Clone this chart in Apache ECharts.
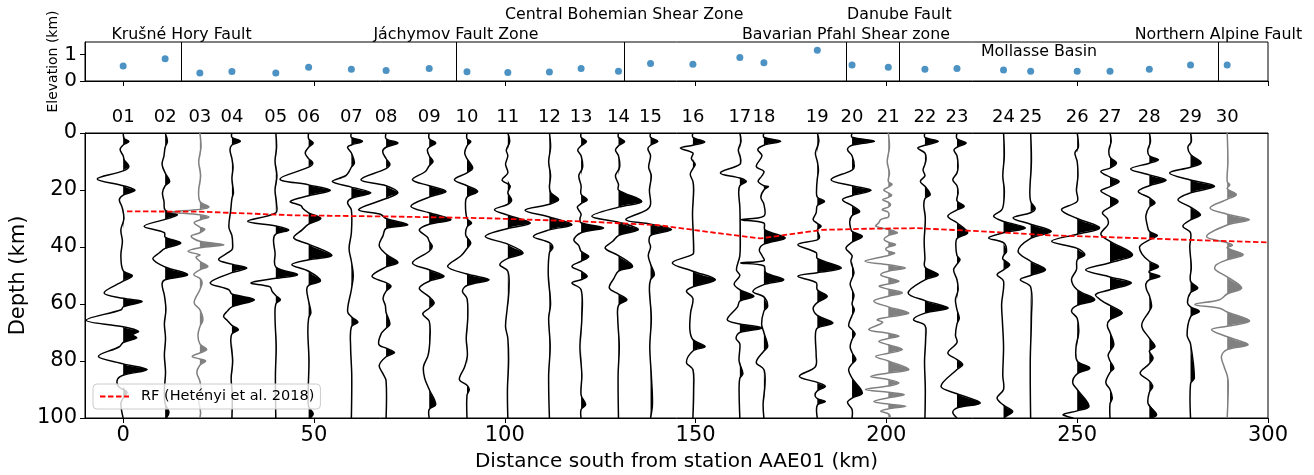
<!DOCTYPE html>
<html>
<head>
<meta charset="utf-8">
<script src="https://cdn.jsdelivr.net/npm/echarts@6/dist/echarts.min.js"></script>
<style>
  html, body { margin: 0; padding: 0; background: #fff; }
  #chart { width: 1314px; height: 475px; }
</style>
</head>
<body>
<div id="chart"></div>
<script>
// stations
var STATION_NAMES = ['01','02','03','04','05','06','07','08','09','10','11','12','13','14','15',
                     '16','17','18','19','20','21','22','23','24','25','26','27','28','29','30'];
var STATION_X = [0, 11.0, 20.1, 28.5, 40.0, 48.6, 59.8, 68.9, 80.2, 90.1, 100.8, 111.7, 120.0, 129.8, 138.2,
                 149.3, 161.6, 167.9, 181.9, 191.0, 200.5, 210.1, 218.5, 230.7, 237.8, 250.0, 258.6, 268.9, 279.7, 289.3];
var ELEVATION = [0.57, 0.84, 0.30, 0.36, 0.30, 0.52, 0.45, 0.40, 0.47, 0.35, 0.32, 0.34, 0.47, 0.37, 0.66,
                 0.64, 0.89, 0.69, 1.17, 0.61, 0.52, 0.45, 0.47, 0.42, 0.37, 0.37, 0.37, 0.45, 0.61, 0.61];
var GRAY_STATIONS = ['03', '21', '30'];

// faults
var FAULT_NAMES = ['Krušné Hory Fault', 'Jáchymov Fault Zone', 'Central Bohemian Shear Zone',
                   'Bavarian Pfahl Shear zone', 'Danube Fault', 'Northern Alpine Fault'];
var FAULT_X = [15.3, 87.2, 131.3, 189.4, 203.4, 287.0];
var FAULT_LEVEL = [0, 0, 1, 0, 1, 0];
var BASIN_NAME = 'Mollasse Basin';
var BASIN_X = 240;
var BASIN_ELEV = 1.1;

// Moho from RF (Hetényi et al. 2018)
var RF_NAME = 'RF (Hetényi et al. 2018)';
var RF_X = [1, 20, 30, 45, 70, 95, 120, 140, 155, 167, 175, 183, 195, 208, 225, 243, 266, 300];
var RF_DEPTH = [27.5, 27.6, 28.1, 28.9, 29.3, 29.9, 31.0, 32.3, 35.0, 37.0, 35.5, 34.0, 33.6, 33.4, 34.5, 35.9, 36.9, 38.4];

var X_TICKS = [0, 50, 100, 150, 200, 250, 300];

// receiver function traces: [depth km, offset km]
var TR01 = [[0,0],[2,0.3],[3,1.5],[4.2,0],[5.8,-0.8],[8,0],[9.5,0.3],[11.7,1.5],[13.3,0],[16.1,-6.8],[18.5,0],[20.1,3.1],[21.8,0],[23.4,-1.0],[26,-0.3],[30,0.2],[34,-0.6],[38,-0.2],[43,-0.6],[48.3,0],[50.1,2.4],[52,0],[56.1,-5.0],[58,0],[59.1,5.0],[61,0],[62,-0.5],[65.7,-9.7],[68,0],[69.6,4.0],[70.8,2.5],[71.9,3.5],[73.5,0],[75,-1],[78.4,-6.5],[81,0],[83,6.3],[85,0],[86.5,-1.5],[89,-1.2],[91,1.0],[93,0],[95,-0.6],[100,0]];
var TR02 = [[0,0],[3,0.6],[5,0],[8,-0.3],[11,-0.8],[14,0],[17,1.2],[18.5,0],[21,-0.7],[24,-0.3],[27,0],[28.7,3.2],[30.3,0],[32.7,-5.5],[35,-0.2],[36.5,0],[38.6,4.1],[40.5,0],[42,-1.5],[44.2,-3.2],[47,0],[49.7,5.9],[51.5,0],[53,-0.8],[57,-0.2],[62,0.2],[67,-0.2],[72,0.1],[78,-0.2],[84,0.1],[90,-0.2],[95,0],[98,1.0],[100,0.3]];
var TR03 = [[0,0],[5,0.3],[10,-0.3],[15,0.2],[20,-0.3],[24,0],[26,2.4],[26.8,0],[27.7,-7.7],[28.7,0],[29.5,2.4],[30.5,0],[31.5,-1.5],[33,0],[33.8,1.3],[35,0],[36.2,-2.3],[38,0],[39.2,6.3],[40.3,0],[41.5,-3.1],[42.8,0],[43.5,-1],[45,0],[46.8,2.1],[48,0],[49.7,-1.6],[51,0],[52.5,0.6],[55,0],[59.6,-1.5],[62,0],[65.5,0.8],[68,0],[71,-0.5],[74,0],[76,1.8],[77.2,0],[78.4,-2.0],[79.3,0],[80,1.5],[81.5,0],[84,-0.8],[87,0],[90,0.3],[94,-0.3],[98,0.2],[100,0]];
var TR04 = [[0,0],[1.5,0],[2.9,2.2],[4.2,0],[6,-0.5],[9,0],[12,0.3],[16,0],[21,0.4],[23,0],[27,-0.3],[33,-0.8],[36,0],[39,0.2],[41,0],[44.4,-3.5],[46,0],[47.4,3.9],[49,0],[52.6,-5.7],[55,-0.8],[56.5,0],[58.5,5.9],[61,0],[62.5,-1.2],[64.3,-2.2],[65.8,-1.2],[67.5,0],[69,1.7],[70.5,0],[73,-0.3],[80,0.2],[86,-0.2],[92,0.1],[100,0]];
var TR05 = [[0,0],[5,0.2],[10,-0.2],[15,0.3],[20,-0.2],[25,0.2],[28,0],[31,-7.4],[32.6,0],[34,3.4],[35.5,0],[37.5,-0.6],[42,-0.2],[47,0],[49.7,5.7],[51,0],[52.6,-6.5],[54,-1.5],[55.5,-1],[57,0],[58.5,1.2],[60,0],[65,-0.2],[75,0.1],[85,-0.1],[100,0]];
var TR06 = [[0,0],[2,0],[3.5,1.2],[5,0],[7,-0.9],[9,0],[10.5,1.1],[12,0],[16.1,-7.5],[18.2,0],[20.1,5.7],[22,0],[24,-4.8],[25.5,-2],[26.5,-1.5],[28,0],[30,3.2],[32,0],[34,-1.7],[36.8,-3.9],[39,0],[43,6.1],[44.5,0],[46.2,-4.4],[48.5,0],[51.8,3.1],[53.5,0],[55,-0.5],[59,0],[63,0.6],[65,0],[70,-0.2],[80,0.1],[90,-0.1],[96,0],[98.5,1.2],[100,0.4]];
var TR07 = [[0,0],[1.5,0],[2.9,2.9],[4.2,0],[5,-1.0],[7,0],[10.5,0.8],[12,0],[13.5,-0.6],[15,-1.5],[17,-5.0],[19,0],[21,5.1],[23,0],[24.5,-1.0],[27,0],[35,0],[40.5,-0.6],[45,0],[50,0.5],[55,0],[62.5,-1.0],[64.5,0],[66.4,1.7],[68,0],[75,-0.2],[85,0.1],[100,0]];
var TR08 = [[0,0],[2,0],[3.5,3.1],[5,0],[6.5,-0.9],[9,0],[11,1.0],[12.5,0],[16.4,-6.6],[18.5,0],[21,3.1],[23,0],[26.9,-7.2],[28.5,-1.5],[30,0],[32.2,5.7],[33.5,0],[36,-0.8],[39.5,-1.8],[42.5,0],[45.4,3.1],[47,0],[50.3,-3.7],[52.5,0],[53.8,1.3],[55.5,0],[58,-0.8],[60.5,-0.2],[63,0],[67,1.0],[68.5,0],[70.5,-1.3],[74.2,-1.9],[75.5,0],[77,2.2],[78.5,0],[81.5,-1.8],[84.5,-0.8],[87,0],[100,0]];
var TR09 = [[0,0],[2,0],[3.5,1.7],[5,0],[6,-0.5],[8,0],[10,1.0],[11.5,0],[13.5,-1],[16.4,-4.4],[18.5,0],[20.5,4.4],[22.5,0],[25.7,-4.8],[28,0],[30.4,5.7],[32,0],[34,-2.6],[36.5,-0.5],[38,0],[39.8,0.8],[41.5,0],[45.6,-4.4],[48,0],[50.3,3.9],[52,0],[54.5,-2.6],[57.5,0],[59.6,1.3],[61.5,0],[63.5,-1.7],[66,0],[72,0.2],[78,-0.3],[82,-1.5],[86,-1.2],[90,0],[95.3,1.7],[97,0],[100,0]];
var TR10 = [[0,0],[2,0],[3,1.0],[4.5,0],[7,-0.6],[9,0],[12.3,1.5],[14,0],[16.4,-3.3],[18.5,0],[20.5,2.8],[22.5,0],[25,-0.4],[30,0],[31.6,1.2],[33,0],[36,-0.3],[38.6,1.0],[40.5,0],[43,-1.5],[46.8,-5.1],[49.5,0],[51.5,5.8],[53.5,0],[55.5,-1.2],[58,0],[65,0.2],[72,-0.2],[78,0.1],[82,-0.6],[86.5,-2.0],[88.5,0],[90,0.6],[92,0],[100,0]];
var TR11 = [[0,0],[3,0.5],[6,-0.4],[8,0],[11,-0.6],[14,0],[16.5,-1.5],[18.5,0.6],[21,0],[23.5,1.0],[25,0],[26.9,-3.5],[28.8,0],[31.6,5.9],[33.5,0],[36.3,-5.9],[39,0],[42.1,4.0],[44,0],[46.2,-2.1],[48.5,0],[55,0.3],[62,-0.2],[68,-0.6],[72,0],[80,0.2],[90,-0.1],[100,0]];
var TR12 = [[0,0],[5,0.3],[10,-0.2],[15,0.3],[19,0],[21,0.4],[23.4,2.4],[25,0],[27.1,-6.4],[29.5,0],[32.2,5.9],[34,0],[36.3,-4.2],[38.5,0],[40.3,0.9],[42,0],[50,-0.3],[60,0.3],[65,-0.2],[75,0.2],[85,-0.2],[100,0]];
var TR13 = [[0,0],[1.5,0],[3,1.4],[4.5,0],[6,-0.9],[8,0],[12,0.4],[15,-0.6],[18.5,0],[21.5,0],[23.4,1.6],[24.8,0],[26,-1.0],[28.5,0],[30,-0.3],[31.5,0],[33.3,5.9],[35,0],[37.5,-1.9],[39.5,-0.6],[41.5,0],[43.3,2.0],[45,0],[46.8,-2.4],[48.5,0],[50.3,1.6],[51.5,0],[52.6,-2.4],[55,0],[65,0.2],[75,-0.3],[85,0.2],[92,0],[95.3,1.2],[97,0],[100,0]];
var TR14 = [[0,0],[1.5,0],[3,1.6],[4.5,0],[6,-0.8],[8,0],[12,0.3],[15,-0.8],[18,0],[20,0],[24,6.1],[26,0],[29.2,-7.0],[31.3,0],[33.9,5.2],[36,0],[38,-1.5],[40.4,-3.5],[43,0],[46.8,3.7],[48.5,0],[51,-1.2],[54.4,-2.4],[56.5,0],[58.5,2.2],[60.5,0],[65,-0.2],[75,0.2],[85,-0.1],[100,0]];
var TR15 = [[0,0],[1.5,0],[2.9,1.9],[4.3,0],[5.5,-0.7],[8,0],[12,-0.5],[15,0.2],[20,-0.3],[25,0],[27,-1],[30.4,-6.5],[32,0],[33.9,5.5],[36,0],[38,-0.4],[40,0],[43,-0.6],[46,0],[49.7,1.0],[51.5,0],[55,-0.3],[65,0.2],[75,-0.2],[85,0.2],[95,0.5],[100,0]];
var TR16 = [[0,0],[1.5,0],[3.2,3.1],[4.3,0],[5.3,-3.3],[7,0],[9,-0.4],[11,0.6],[12.5,0],[14.5,-0.7],[17,0],[20,0.2],[28,-0.1],[36,0.1],[41,0.2],[42.5,0],[45.6,-5.4],[48.5,0],[51.5,5.9],[54,0],[55.5,-1.7],[58,0],[63,-0.6],[69,-0.8],[72.5,0],[74.9,3.2],[76.5,0],[80.5,-1.7],[83,0],[90,0.2],[100,0]];
var TR17 = [[0,0],[3,0.3],[6,-0.4],[9,0.2],[11,0],[14,-5.1],[15.8,0],[17,1.7],[18.5,0],[21,-0.3],[26,0],[35,0.1],[43,0],[48,-0.9],[50,0],[53,-1.5],[55,0],[57.3,3.7],[59,0],[61,-0.6],[65.5,-3.3],[67,0],[68.4,5.9],[70,0],[72,-1.0],[74,0],[80,-0.2],[84.5,0.8],[86,0],[90,-0.2],[100,0]];
var TR18 = [[0,0],[1.5,0],[2.9,4.4],[4.3,0],[5.8,-1.6],[8,-0.5],[11.7,-2.0],[13.5,0],[15,-0.5],[17,-1.5],[18.5,0],[18.8,1.2],[20,0],[22.5,-0.8],[25,0],[29.2,0],[30.4,-6.0],[31.6,0],[34,0.3],[36.8,5.6],[39,0],[41,-1.2],[43,-0.5],[44.8,0],[45.6,-6.1],[46.6,0],[49,0.5],[51.5,5.2],[53.2,0],[55.6,-2.9],[57.5,0],[60.8,1.0],[62.5,0],[67,-0.6],[70,0],[74.9,1.0],[76.5,0],[80.5,-2.0],[83,0],[88,0.3],[95,-0.2],[100,0]];
var TR19 = [[0,0],[3,0.4],[7,-0.5],[10,0],[13,0.3],[16,0],[20,-0.2],[22.5,0],[24,1.9],[25.5,0],[28,-0.3],[30.4,-1.1],[31.7,0],[32.7,1.0],[34,0],[36.5,0.6],[37.5,0],[39.2,-5.1],[42,-0.3],[44,0],[47.4,6.3],[49,0],[50.3,-5.1],[52.5,-0.3],[55,0],[57.3,2.6],[59.5,0],[61.5,-1.1],[64,0],[66.7,4.1],[68.5,0],[71,-0.5],[78,-0.3],[82,-0.5],[85.4,-4.7],[87.5,0],[88.9,2.1],[90.5,0],[92,-0.6],[93.2,0],[94.2,2.1],[95.5,0],[100,0]];
var TR20 = [[0,0],[1.5,0],[2.9,5.9],[4.3,0],[5.8,-1.2],[8,0],[11.7,0.6],[13,0],[16.4,-5.5],[18.5,0],[20.1,5.0],[22,0],[23.4,-2.5],[25.5,0],[27.5,2.0],[29,0],[31,-0.6],[33.3,-0.4],[34.5,0],[36.3,2.7],[38.3,0],[40.4,-1.6],[43,0],[45,-0.3],[49,0.5],[51,0],[53,-0.5],[55,0],[57,0.5],[60,0],[62,0.6],[64,0],[67.5,-0.9],[69,0],[70.5,0.8],[72.5,0],[75,-0.5],[77,0],[79.5,1.0],[81,0],[83,-0.9],[86,0],[91.2,2.7],[93,0],[94.5,-1.2],[97,0],[100,0]];
var TR21 = [[0,0],[5,0.3],[10,-0.3],[14,0.3],[17,0],[18,1.0],[19,0],[20,-1.2],[21,0],[21.8,0.9],[22.6,0],[23.4,-1.5],[24.3,0],[25.2,0.6],[26,0],[26.9,-1.6],[27.8,0],[28.7,0.2],[29.5,0],[30.4,-2.0],[31.5,-2.5],[32.7,-3.3],[33.8,0],[35,2.4],[36,0],[37.4,-1.1],[38.3,0],[39.2,1.9],[40,0],[40.7,-0.7],[41.5,0],[42.1,1.7],[43,0],[45,-6.1],[46.2,0],[47.4,4.5],[48.5,0],[49.7,-2.0],[50.8,0],[52,2.8],[53,0],[53.8,-2.4],[54.8,0],[56.1,3.7],[57.3,0],[59,-3.8],[61,0],[63.2,5.4],[64.6,0],[65.5,-2.9],[66.5,-1.5],[69,-5.1],[70.3,0],[71.3,2.8],[72.1,0],[73.1,-2.5],[74.3,0],[76,3.7],[77.3,0],[78.4,-3.3],[80,0],[83,5.4],[84.2,0],[85.4,-4.6],[86.5,0],[87.7,2.8],[88.8,0],[90,-6],[91,0],[91.8,4.2],[92.9,0],[94.2,-3.8],[95.1,0],[95.9,4.6],[96.8,0],[97.6,-2],[98.5,0],[99.5,0.5],[100,0]];
var TR22 = [[0,0],[1.5,0],[2.9,3.5],[4.3,0],[5.3,-1.9],[7,0],[9,0.3],[11,0],[13,-0.5],[15,0],[17,-1.2],[18.7,0],[21.6,1.4],[23,0],[25.5,-0.3],[30,0.1],[38,-0.2],[44,0],[47,0],[49.7,3.5],[51.5,0],[56.1,-4.4],[58.8,0],[61.4,6.1],[63.2,0],[65.5,-3.0],[67.5,0],[72,0.2],[80,-0.1],[90,0.1],[100,0]];
var TR23 = [[0,0],[2,0],[3.5,2.4],[5,0],[6,-0.8],[8,0],[11.7,0.3],[14,0],[16.4,-1.1],[18.5,0],[21,0.3],[23.8,0],[25.7,1.9],[27,0],[29.2,-2.4],[31.5,0],[35,2.8],[37,0],[39.5,-0.3],[43,0],[44.4,0.8],[46,0],[48,-0.9],[51.5,0],[55,0.3],[58.5,-0.4],[62,0],[65,0.6],[67,0],[71,-0.4],[73.5,0],[77.2,-2.4],[79.5,0],[81.3,1.5],[83,0],[88.9,-4.2],[91.5,0],[94.7,6.1],[96.5,0],[98,-1.1],[100,0]];
var TR24 = [[0,0],[8,0.2],[15,-0.2],[20,0.2],[25,0],[27,-0.5],[29.2,-2.6],[31,0],[33.3,5.7],[35,0],[36.8,-3.9],[38.5,0],[41.5,0.8],[43,0],[44.2,-0.2],[46.2,1.6],[48,0],[49.7,-1.7],[52,0],[60,-0.5],[66,-0.3],[75,0],[85,-0.2],[90,0],[93,-1.7],[95.5,0],[97.7,2.4],[99.5,0.5],[100,0.3]];
var TR25 = [[0,0],[10,0.2],[20,-0.2],[24,0],[26.5,1.2],[28,0],[29.8,-4.6],[32,0],[34.5,5.4],[37,0],[41.5,-3.3],[45,0],[48,3.9],[50,0],[51.5,-2.7],[54,0],[65,0.2],[80,-0.1],[100,0]];
var TR26 = [[0,0],[5,0.3],[7,-0.6],[10,0],[15,0.2],[20,-0.2],[24,0],[26.9,-4.1],[30,0],[33.3,5.9],[35.5,0],[38,-6.7],[40.5,0],[42.7,2.0],[44.5,0],[48,-0.2],[51.5,-1.5],[55,0],[58.5,4.6],[60.5,0],[62.5,-1.5],[65,0],[70,0.4],[75,-0.3],[80,0],[82.5,3.3],[84.5,0],[87.5,-1.2],[90,0],[95.9,3.1],[97.5,0],[98.8,-3.7],[100,-1]];
var TR27 = [[0,0],[3,0.3],[6,-0.3],[8.5,0],[10.5,1.7],[12.3,0],[13.5,-2.4],[15.5,0],[17,2.4],[18.8,0],[20.3,-2.4],[22.3,0],[24,2.1],[26,0],[28,-2.0],[30,-0.7],[32,-0.5],[35.5,-2.4],[38,0],[42.7,5.9],[45.5,0],[48,-6.4],[50.5,0],[52.6,5.6],[55,0],[56.7,-3.8],[59,-2.0],[60.5,0],[63.2,3.2],[65.5,0],[67.5,-0.7],[70,0],[74.3,1.0],[76.5,0],[78,-0.5],[80,0],[82.5,1.0],[84,0],[87.5,-1.1],[90,0],[93,0.6],[95,0],[100,0]];
var TR28 = [[0,0],[3,0.3],[6,-0.4],[8,0],[9.4,2.4],[10.6,0],[12.6,-4.9],[14.7,0],[16.6,4.4],[18.5,0],[20.5,-2.9],[22.7,0],[24.6,1.5],[26,0],[29,-0.9],[32,-0.6],[34.5,0],[36,2.1],[37.5,0],[39.8,-2.5],[42.5,-1.9],[45,0],[46.8,2.4],[48.5,0],[49,0],[50.3,2.8],[51.5,0],[53,-0.9],[55,-0.7],[57,0],[60.8,0.6],[62.5,0],[67.5,-2.0],[72,0],[74.9,1.5],[76.5,0],[78.9,1.0],[81,0],[84.2,-2.4],[87,0],[89,0.9],[91,0],[95,-0.3],[98.8,1.9],[100,0.5]];
var TR29 = [[0,0],[3,0.2],[5,-0.7],[7.5,0],[10.5,2.8],[12,0],[14,-5.5],[16.5,0],[18.7,6.3],[21,0],[23.4,-3.3],[26,0],[28.7,2.6],[30.5,0],[32.7,-2.0],[35,0],[40,-0.2],[47,0.2],[52,0],[54.4,1.9],[56,0],[59.6,-0.8],[61,0],[62.6,2.3],[64.5,0],[71,-0.9],[74,0],[86,1.0],[88,0],[100,0]];
var TR30 = [[0,0],[10,0.2],[17,0],[18.2,0.7],[19.5,0],[21.6,2.4],[23.3,0],[26.3,-4.5],[28.5,0],[30.4,5.8],[32.3,0],[36.3,-5.4],[38.5,0],[39.4,1.4],[40.3,0],[42.7,4.2],[44.5,0],[46.2,-2.8],[47.8,-3.2],[50.5,0],[54.4,3.8],[56.5,0],[58.5,-2],[60.2,-8.5],[61.5,-2],[62.8,0],[66,5.9],[67.8,0],[69,-4.1],[71.5,0],[74.3,5.5],[76,0],[78.4,-1.5],[82,-0.8],[85,0],[88,0.3],[100,0]];

var TRACES = [TR01, TR02, TR03, TR04, TR05, TR06, TR07, TR08, TR09, TR10, TR11, TR12, TR13, TR14, TR15,
              TR16, TR17, TR18, TR19, TR20, TR21, TR22, TR23, TR24, TR25, TR26, TR27, TR28, TR29, TR30];

var FONT = 'DejaVu Sans';
var ELEV_MAX = 1.48;

var chart = echarts.init(document.getElementById('chart'), null, { renderer: 'canvas' });

function renderTrace(params, api) {
    var i = params.dataIndex;
    var x0 = STATION_X[i];
    var knots = TRACES[i];
    var color = GRAY_STATIONS.indexOf(STATION_NAMES[i]) >= 0 ? '#808080' : '#000000';
    var base = api.coord([x0, knots[0][0]]);
    var line = knots.map(function (k) { return api.coord([x0 + k[1], k[0]]); });
    var fill = [base].concat(knots.map(function (k) {
        return api.coord([x0 + Math.max(k[1], 0), k[0]]);
    }));
    fill.push(api.coord([x0, knots[knots.length - 1][0]]));
    return {
        type: 'group',
        children: [
            {
                type: 'polyline',
                shape: { points: fill, smooth: 0.35, smoothConstraint: [base, base] },
                style: { fill: color, stroke: null, lineWidth: 0 }
            },
            {
                type: 'polyline',
                shape: { points: line, smooth: 0.35, smoothConstraint: [base, base] },
                style: { stroke: color, fill: null, lineWidth: 1.5 }
            }
        ]
    };
}

function labelText(text, p) {
    return {
        type: 'text',
        x: p[0],
        y: p[1],
        style: {
            text: text,
            textAlign: 'center',
            textVerticalAlign: 'middle',
            font: '15.8px "' + FONT + '"',
            fill: '#000'
        }
    };
}

function renderFaultLabel(params, api) {
    var i = params.dataIndex;
    var p = api.coord([FAULT_X[i], ELEV_MAX]);
    var dy = FAULT_LEVEL[i] === 1 ? 27 : 7;
    return labelText(FAULT_NAMES[i], [p[0], p[1] - dy]);
}

function renderBasinLabel(params, api) {
    return labelText(BASIN_NAME, api.coord([BASIN_X, BASIN_ELEV]));
}

var axisLineStyle = { show: true, onZero: false, lineStyle: { color: '#000', width: 1 } };

var option = {
    animation: false,
    backgroundColor: '#fff',
    textStyle: { fontFamily: FONT },
    legend: {
        data: [RF_NAME],
        left: 93,
        top: 384,
        orient: 'horizontal',
        padding: [5, 6],
        itemWidth: 29,
        itemHeight: 16,
        itemStyle: { opacity: 0, color: 'rgba(0,0,0,0)', borderWidth: 0 },
        backgroundColor: 'rgba(255,255,255,0.8)',
        borderColor: '#cccccc',
        borderWidth: 1,
        borderRadius: 4,
        textStyle: { fontSize: 14.5, color: '#000', fontFamily: FONT, padding: [0, 0, 0, 7] }
    },
    grid: [
        { left: 85, right: 46, top: 42, height: 39, show: true, borderColor: '#000', borderWidth: 1,
          backgroundColor: 'transparent', containLabel: false, outerBoundsMode: 'none' },
        { left: 85, right: 46, top: 133, height: 285, show: true, borderColor: '#000', borderWidth: 1,
          backgroundColor: 'transparent', containLabel: false, outerBoundsMode: 'none' }
    ],
    xAxis: [
        {
            gridIndex: 0, type: 'value', min: -10, max: 300,
            axisLine: axisLineStyle,
            axisTick: { show: true, length: 5, customValues: X_TICKS, lineStyle: { color: '#000' } },
            axisLabel: { show: false },
            splitLine: { show: false }
        },
        {
            gridIndex: 1, type: 'value', min: -10, max: 300, position: 'bottom',
            axisLine: axisLineStyle,
            axisTick: { show: true, length: 5, customValues: X_TICKS, lineStyle: { color: '#000' } },
            axisLabel: { customValues: X_TICKS, fontSize: 21, color: '#000', margin: 7 },
            splitLine: { show: false },
            name: 'Distance south from station AAE01 (km)',
            nameLocation: 'middle',
            nameGap: 34,
            nameTextStyle: { fontSize: 20, color: '#000' }
        },
        {
            gridIndex: 1, type: 'value', min: -10, max: 300, position: 'top',
            axisLine: axisLineStyle,
            axisTick: { show: false },
            axisLabel: {
                customValues: STATION_X,
                fontSize: 18,
                color: '#000',
                margin: 7,
                formatter: function (v) {
                    var best = 0;
                    for (var i = 1; i < STATION_X.length; i++) {
                        if (Math.abs(STATION_X[i] - v) < Math.abs(STATION_X[best] - v)) best = i;
                    }
                    return STATION_NAMES[best];
                }
            },
            splitLine: { show: false }
        }
    ],
    yAxis: [
        {
            gridIndex: 0, type: 'value', min: 0, max: ELEV_MAX,
            axisLine: axisLineStyle,
            axisTick: { show: true, length: 5, customValues: [0, 1], lineStyle: { color: '#000' } },
            axisLabel: { customValues: [0, 1], fontSize: 20, color: '#000', margin: 8 },
            splitLine: { show: false },
            name: 'Elevation (km)',
            nameLocation: 'middle',
            nameRotate: 90,
            nameMoveOverlap: false,
            nameGap: 25,
            nameTextStyle: { fontSize: 14, color: '#000' }
        },
        {
            gridIndex: 1, type: 'value', min: 0, max: 100, interval: 20, inverse: true,
            axisLine: axisLineStyle,
            axisTick: { show: true, length: 5, lineStyle: { color: '#000' } },
            axisLabel: { fontSize: 21, color: '#000', margin: 8 },
            splitLine: { show: false },
            name: 'Depth (km)',
            nameLocation: 'middle',
            nameRotate: 90,
            nameMoveOverlap: false,
            nameGap: 56,
            nameTextStyle: { fontSize: 21, color: '#000' }
        }
    ],
    series: [
        {
            type: 'scatter',
            xAxisIndex: 0,
            yAxisIndex: 0,
            data: STATION_X.map(function (x, i) { return [x, ELEVATION[i]]; }),
            symbolSize: 7,
            itemStyle: { color: '#1f77b4' },
            markLine: {
                silent: true,
                symbol: 'none',
                label: { show: false },
                lineStyle: { color: '#000', width: 1, type: 'solid' },
                data: FAULT_X.map(function (x) { return { xAxis: x }; })
            }
        },
        {
            type: 'custom',
            xAxisIndex: 0,
            yAxisIndex: 0,
            silent: true,
            data: FAULT_X.map(function (x) { return [x, ELEV_MAX]; }),
            renderItem: renderFaultLabel
        },
        {
            type: 'custom',
            xAxisIndex: 0,
            yAxisIndex: 0,
            silent: true,
            data: [[BASIN_X, BASIN_ELEV]],
            renderItem: renderBasinLabel
        },
        {
            type: 'custom',
            xAxisIndex: 1,
            yAxisIndex: 1,
            silent: true,
            clip: true,
            data: STATION_X.map(function (x) { return [x, 0]; }),
            renderItem: renderTrace
        },
        {
            type: 'line',
            name: RF_NAME,
            xAxisIndex: 1,
            yAxisIndex: 1,
            data: RF_X.map(function (x, i) { return [x, RF_DEPTH[i]]; }),
            symbol: 'none',
            showSymbol: false,
            smooth: false,
            z: 5,
            lineStyle: { color: '#ff0000', width: 1.8, type: [5.5, 2.5] },
            itemStyle: { color: '#ff0000' }
        }
    ]
};

chart.setOption(option);
</script>
</body>
</html>
